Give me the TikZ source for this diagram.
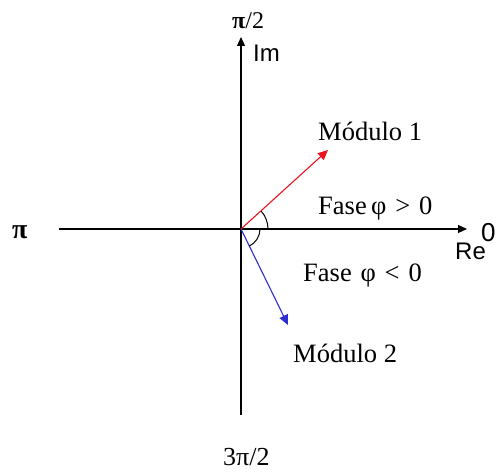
\documentclass[tikz,border=0pt]{standalone}
\usepackage{fontspec}
\setmainfont{Liberation Serif}
\newfontfamily\labsans{Liberation Sans}
\usetikzlibrary{arrows.meta}
\definecolor{vecblue}{RGB}{45,45,210}
\definecolor{vecred}{RGB}{235,20,30}
\begin{document}
\begin{tikzpicture}[x=1pt,y=1pt,
  axis/.style={line width=1.1pt,-{Triangle[length=9pt,width=8pt]}},
  vec/.style={line width=1.1pt,-{Triangle[length=10pt,width=9pt]}},
  lab/.style={inner sep=0pt,anchor=base west,font=\fontsize{26.5}{30}\selectfont},
  slab/.style={inner sep=0pt,anchor=base west,font=\labsans\fontsize{24}{28}\selectfont},
  anglearc/.style={line width=1pt}]
\useasboundingbox (0,0) rectangle (496,474);
\coordinate (O) at (241,245);
\coordinate (Ybot) at (241,59);
\coordinate (Ytop) at (241,437);
\coordinate (Xleft) at (59,245);
\coordinate (Xright) at (467,245);
\coordinate (M1) at (328,324);
\coordinate (M2) at (288,149);
% axes
\draw[axis] (Ybot) -- (Ytop);
\draw[axis] (Xleft) -- (Xright);
% vectors
\draw[vec,vecred] (O) -- (M1);
\draw[vec,vecblue] (O) -- (M2);
% angle arcs
\draw[anglearc] (O) ++(0:27) arc[start angle=0,end angle=42,radius=27];
\draw[anglearc] (O) ++(0:19) arc[start angle=0,end angle=-64,radius=19];
% labels
\node[lab,font=\fontsize{24}{28}\selectfont] (tpi2) at (232,445) {{\bfseries π}/2};
\node[slab] (tim) at (253,412) {Im};
\node[lab] (tm1) at (318,333) {Módulo 1};
\node[lab] (tfp) at (318,259) {Fase\,φ\,\,>\,\,0};
\node[slab,font=\labsans\fontsize{26}{30}\selectfont] (tzero) at (481,232) {0};
\node[slab] (tre) at (455,214) {Re};
\node[lab] (tfn) at (303,192) {Fase\,\,φ\,\,<\,\,0};
\node[lab] (tm2) at (293,111) {Módulo 2};
\node[lab,font=\fontsize{28}{30}\selectfont] (tpi) at (12,235) {\bfseries π};
\node[lab,font=\fontsize{26}{30}\selectfont] (t3pi) at (223,8) {3π/2};
\end{tikzpicture}
\end{document}
